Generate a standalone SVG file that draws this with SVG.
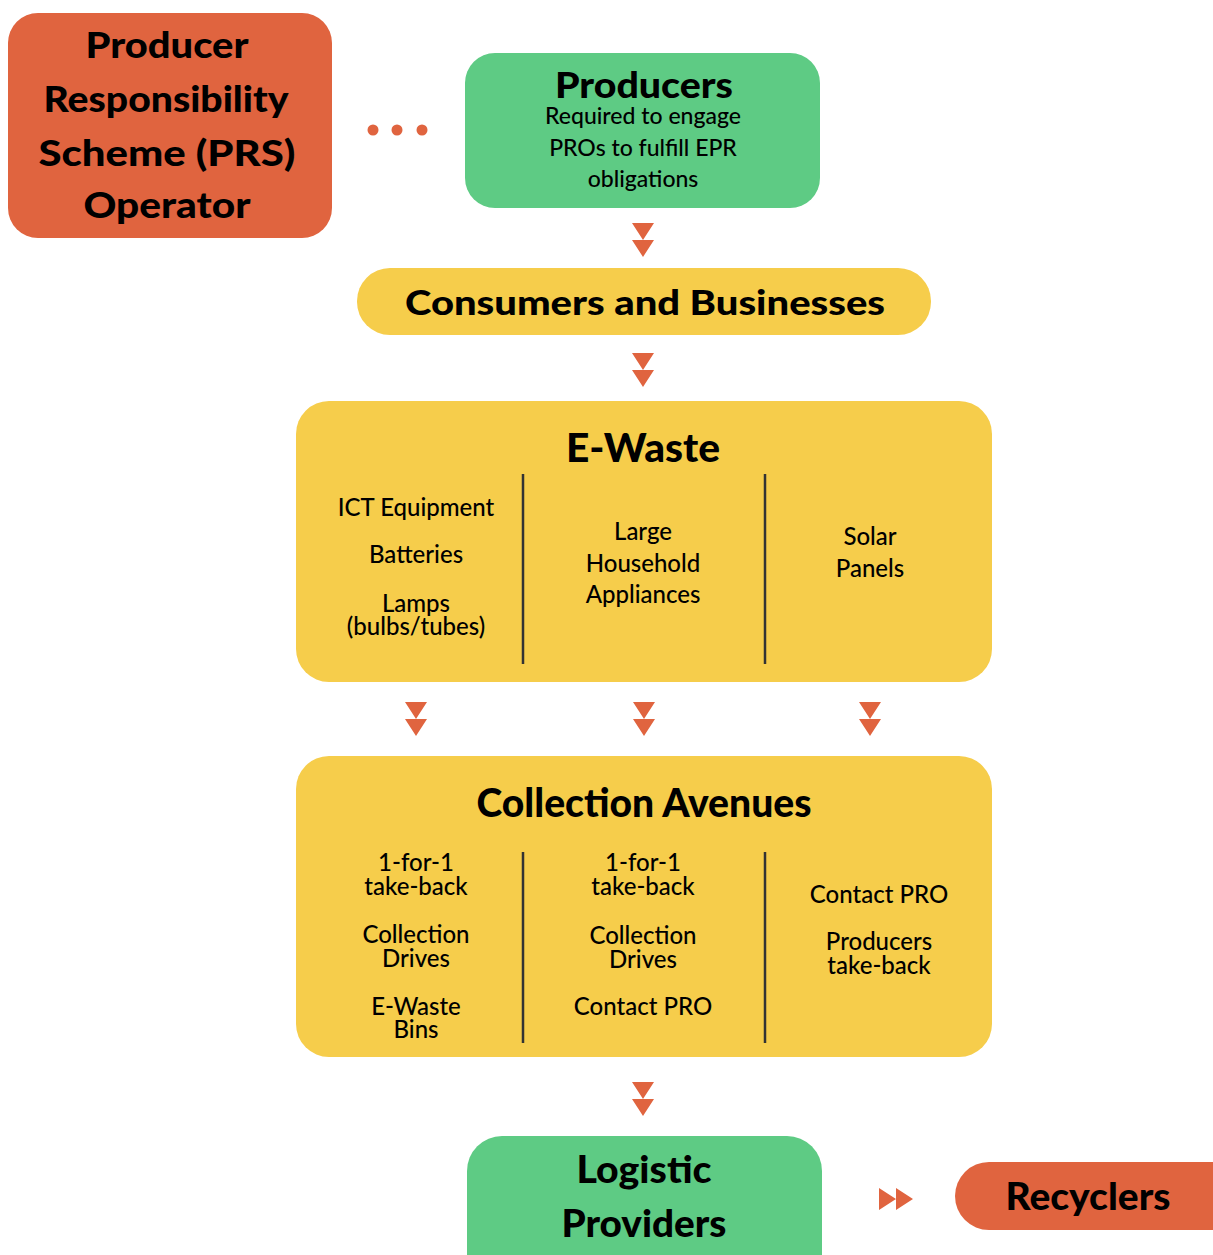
<svg xmlns="http://www.w3.org/2000/svg" width="1213" height="1255" viewBox="0 0 1213 1255">
<defs>
<style>
.orange{fill:#E0643F}
.green{fill:#5ECB84}
.yellow{fill:#F6CD4B}
.arr{fill:#E0643F}
.h{font-family:Lato,"Liberation Sans",sans-serif;font-weight:900;fill:#000;text-anchor:middle}
.b{font-family:Lato,"Liberation Sans",sans-serif;font-weight:500;fill:#000;text-anchor:middle}
.div{stroke:#333;stroke-width:2.5;fill:none}
</style>
<path id="dd" d="M-11,0 L11,0 L0,17 Z M-11,17 L11,17 L0,34 Z"/>
<path id="rr" d="M0,0 L0,22 L17,11 Z M17,0 L17,22 L34,11 Z"/>
</defs>
<rect width="1213" height="1255" fill="#fff"/>

<g id="prs">
<rect class="orange" x="8" y="13" width="324" height="225" rx="30"/>
<text class="h" x="167" y="58" font-size="36" textLength="163" lengthAdjust="spacingAndGlyphs">Producer</text>
<text class="h" x="166" y="112" font-size="36" textLength="245" lengthAdjust="spacingAndGlyphs">Responsibility</text>
<text class="h" x="167" y="166" font-size="36" textLength="257" lengthAdjust="spacingAndGlyphs">Scheme (PRS)</text>
<text class="h" x="167" y="218" font-size="36" textLength="167" lengthAdjust="spacingAndGlyphs">Operator</text>
</g>

<g id="producers">
<rect class="green" x="465" y="53" width="355" height="155" rx="30"/>
<text class="h" x="644" y="98" font-size="36" textLength="178" lengthAdjust="spacingAndGlyphs">Producers</text>
<text class="b" x="643" y="124" font-size="23">Required to engage</text>
<text class="b" x="643" y="156" font-size="23">PROs to fulfill EPR</text>
<text class="b" x="643" y="187" font-size="23">obligations</text>
</g>

<g id="consumers">
<rect class="yellow" x="357" y="268" width="574" height="67" rx="33"/>
<text class="h" x="645" y="315" font-size="35" textLength="480" lengthAdjust="spacingAndGlyphs">Consumers and Businesses</text>
</g>

<g id="ewaste">
<rect class="yellow" x="296" y="401" width="696" height="281" rx="33"/>
<text class="h" x="643" y="462" font-size="40" textLength="154" lengthAdjust="spacingAndGlyphs">E-Waste</text>
<line class="div" x1="523" y1="474" x2="523" y2="664"/>
<line class="div" x1="765" y1="474" x2="765" y2="664"/>
<text class="b" x="416" y="516" font-size="24">ICT Equipment</text>
<text class="b" x="416" y="563" font-size="24">Batteries</text>
<text class="b" x="416" y="612" font-size="24">Lamps</text>
<text class="b" x="416" y="635" font-size="24">(bulbs/tubes)</text>
<text class="b" x="643" y="540" font-size="24">Large</text>
<text class="b" x="643" y="572" font-size="24">Household</text>
<text class="b" x="643" y="603" font-size="24">Appliances</text>
<text class="b" x="870" y="545" font-size="24">Solar</text>
<text class="b" x="870" y="577" font-size="24">Panels</text>
</g>

<g id="collection">
<rect class="yellow" x="296" y="756" width="696" height="301" rx="33"/>
<text class="h" x="644" y="817" font-size="39" textLength="335" lengthAdjust="spacingAndGlyphs">Collection Avenues</text>
<line class="div" x1="523" y1="852" x2="523" y2="1043"/>
<line class="div" x1="765" y1="852" x2="765" y2="1043"/>
<text class="b" x="416" y="871" font-size="24">1-for-1</text>
<text class="b" x="416" y="895" font-size="24">take-back</text>
<text class="b" x="416" y="943" font-size="24">Collection</text>
<text class="b" x="416" y="967" font-size="24">Drives</text>
<text class="b" x="416" y="1015" font-size="24">E-Waste</text>
<text class="b" x="416" y="1038" font-size="24">Bins</text>
<text class="b" x="643" y="871" font-size="24">1-for-1</text>
<text class="b" x="643" y="895" font-size="24">take-back</text>
<text class="b" x="643" y="944" font-size="24">Collection</text>
<text class="b" x="643" y="968" font-size="24">Drives</text>
<text class="b" x="643" y="1015" font-size="24">Contact PRO</text>
<text class="b" x="879" y="903" font-size="24">Contact PRO</text>
<text class="b" x="879" y="950" font-size="24">Producers</text>
<text class="b" x="879" y="974" font-size="24">take-back</text>
</g>

<g id="logistic">
<rect class="green" x="467" y="1136" width="355" height="160" rx="35"/>
<text class="h" x="644" y="1183" font-size="38" textLength="135" lengthAdjust="spacingAndGlyphs">Logistic</text>
<text class="h" x="644" y="1237" font-size="38" textLength="165" lengthAdjust="spacingAndGlyphs">Providers</text>
</g>

<g id="recyclers">
<rect class="orange" x="955" y="1162" width="300" height="68" rx="34"/>
<text class="h" x="1088" y="1210" font-size="38" textLength="165" lengthAdjust="spacingAndGlyphs">Recyclers</text>
</g>

<g id="connectors">
<circle class="arr" cx="373" cy="130" r="5.5"/>
<circle class="arr" cx="397" cy="130" r="5.5"/>
<circle class="arr" cx="422" cy="130" r="5.5"/>
<use href="#dd" class="arr" x="643" y="223"/>
<use href="#dd" class="arr" x="643" y="353"/>
<use href="#dd" class="arr" x="416" y="702"/>
<use href="#dd" class="arr" x="644" y="702"/>
<use href="#dd" class="arr" x="870" y="702"/>
<use href="#dd" class="arr" x="643" y="1082"/>
<use href="#rr" class="arr" x="879" y="1188"/>
</g>
</svg>
